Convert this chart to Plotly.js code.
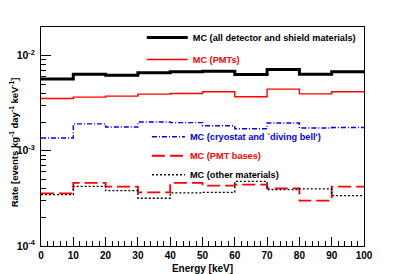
<!DOCTYPE html>
<html><head><meta charset="utf-8">
<script src="https://cdn.plot.ly/plotly-3.0.1.min.js"></script>
<style>html,body{margin:0;padding:0;background:#fff}#chart{width:405px;height:274px}</style>
</head><body><div id="chart"></div>
<script>
// bin edges (keV)
const binEdges = [0,10,20,30,40,50,60,70,80,90,100];
// rates per bin [events kg^-1 day^-1 keV^-1]
const mcAll      = [5.64e-3,6.35e-3,6.20e-3,6.56e-3,6.72e-3,6.80e-3,6.29e-3,7.10e-3,6.35e-3,6.72e-3];
const mcPMTs     = [3.53e-3,3.65e-3,3.74e-3,3.92e-3,3.98e-3,4.15e-3,3.68e-3,4.43e-3,3.95e-3,4.15e-3];
const mcCryostat = [1.36e-3,1.91e-3,1.77e-3,2.00e-3,1.97e-3,1.83e-3,1.70e-3,1.95e-3,1.73e-3,1.75e-3];
const mcBases    = [3.57e-4,4.59e-4,4.20e-4,3.66e-4,4.59e-4,4.30e-4,4.40e-4,4.03e-4,2.99e-4,4.20e-4];
const mcOther    = [3.46e-4,4.23e-4,3.81e-4,3.17e-4,3.61e-4,3.66e-4,4.77e-4,3.90e-4,3.97e-4,3.38e-4];
const names = ['MC (all detector and shield materials)','MC (PMTs)',"MC (cryostat and `diving bell')",'MC (PMT bases)','MC (other materials)'];

function stepY(v){ return v.concat([v[v.length-1]]); }
const FONT = 'Liberation Sans, Arial, Helvetica, sans-serif';

const series = [
  {v: mcAll, color:'#000000', width:3, dash:'solid', legend:'legend', txt:'#000000'},
  {v: mcPMTs, color:'#ff0000', width:1.4, dash:'solid', legend:'legend', txt:'#ff0000'},
  {v: mcCryostat, color:'#0000ff', width:1.4, dash:'5px,2px,1px,2px', legend:'legend2', txt:'#0000ff'},
  {v: mcBases, color:'#ff0000', width:1.8, dash:'13px,5px', legend:'legend2', txt:'#ff0000'},
  {v: mcOther, color:'#000000', width:1.3, dash:'2px,2px', legend:'legend2', txt:'#000000'}
];
const traces = series.map((s,i)=>({
  type:'scatter', mode:'lines', x: binEdges, y: stepY(s.v),
  line:{shape:'hv', color:s.color, width:s.width, dash:s.dash},
  name:'<span style="color:'+s.txt+'">'+names[i]+'</span>',
  legend:s.legend, legendgroup:'g'+i, hoverinfo:'skip'
}));

const minorVals=[];
for(let e=-4;e<=-2;e++){ for(let d=2;d<=9;d++){ minorVals.push(d*Math.pow(10,e)); } }

const layout = {
  width:405, height:274,
  margin:{l:40.5,r:40.5,t:27,b:27.5},
  paper_bgcolor:'#fff', plot_bgcolor:'#fff',
  font:{family:FONT, size:10, color:'#000', weight:'bold'},
  xaxis:{range:[0,100], showgrid:false, zeroline:false, showline:true, mirror:true, linecolor:'#000', linewidth:1,
    ticks:'inside', ticklen:9, tickcolor:'#000', tickmode:'array', tickvals:binEdges, ticktext:binEdges.map(String),
    minor:{ticks:'inside', ticklen:5, tickcolor:'#000', dtick:2, showgrid:false},
    tickfont:{family:FONT,size:10,weight:'bold'}, ticklabelstandoff:0,
    title:{text:'Energy [keV]', font:{family:FONT,size:10,weight:'bold'}, standoff:4}, automargin:false},
  yaxis:{type:'log', range:[-4,-1.702], showgrid:false, zeroline:false, showline:true, mirror:true, linecolor:'#000', linewidth:1,
    ticks:'inside', ticklen:10, tickcolor:'#000', tickmode:'array', tickvals:[1e-4,1e-3,1e-2],
    ticktext:['10<sup>-4</sup>','10<sup>-3</sup>','10<sup>-2</sup>'],
    minor:{ticks:'inside', ticklen:5, tickcolor:'#000', tickmode:'array', tickvals:minorVals, showgrid:false},
    tickfont:{family:FONT,size:10.5,weight:'bold'}, ticklabelstandoff:3, automargin:false},
  annotations:[{text:'Rate [events kg<sup>-1</sup> day<sup>-1</sup> keV<sup>-1</sup>]', xref:'paper', yref:'paper',
    x:0, y:0.4715, xanchor:'center', yanchor:'middle', xshift:-27.5, textangle:-90, showarrow:false,
    font:{family:FONT,size:9.5,weight:'bold',color:'#000'}}],
  showlegend:true,
  legend:{x:0.312, y:1.018, xanchor:'left', yanchor:'top', bgcolor:'rgba(0,0,0,0)', borderwidth:0,
    font:{family:FONT,size:9.2,weight:'bold'}, tracegroupgap:3, itemwidth:41},
  legend2:{x:0.328, y:0.565, xanchor:'left', yanchor:'top', bgcolor:'rgba(0,0,0,0)', borderwidth:0,
    font:{family:FONT,size:9.2,weight:'bold'}, tracegroupgap:0, itemwidth:33}
};
Plotly.newPlot('chart', traces, layout, {displayModeBar:false, staticPlot:true});
</script></body></html>
